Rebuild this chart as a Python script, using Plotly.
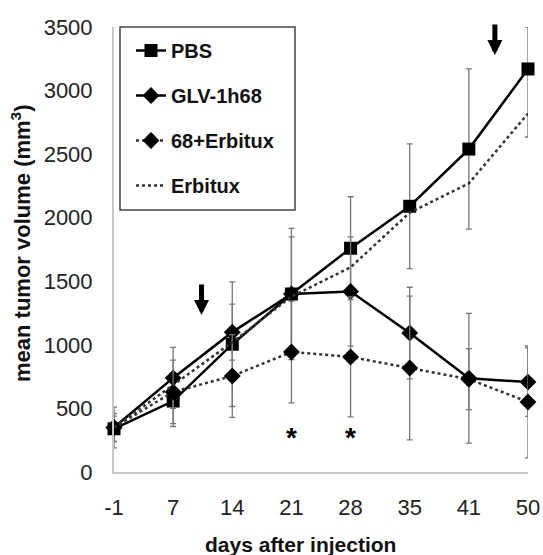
import plotly.graph_objects as go

days = ["-1", "7", "14", "21", "28", "35", "41", "50"]

pbs = [340, 558, 1005, 1400, 1760, 2090, 2540, 3170]
pbs_err_plus = [100, 200, 490, 516, 405, 490, 630, 330]
pbs_err_minus = [100, 200, 490, 516, 405, 490, 630, 535]

glv = [350, 740, 1100, 1400, 1420, 1093, 737, 707]
glv_err = [160, 240, 220, 450, 430, 360, 510, 270]

combo = [350, 630, 755, 944, 905, 818, 730, 551]
combo_err = [110, 250, 325, 400, 472, 566, 240, 440]

erbitux = [350, 684, 1020, 1380, 1610, 2040, 2270, 2820]

xi = list(range(len(days)))

fig = go.Figure()

fig.add_trace(go.Scatter(
    x=xi, y=pbs, name="PBS", mode="lines+markers",
    line=dict(color="black", width=2.5),
    marker=dict(symbol="square", size=13, color="black"),
    error_y=dict(type="data", symmetric=False, array=pbs_err_plus, arrayminus=pbs_err_minus,
                 color="#777", thickness=1.3, width=3),
    cliponaxis=False, legendgroup="a"))
fig.add_trace(go.Scatter(
    x=xi, y=glv, name="GLV-1h68", mode="lines+markers",
    line=dict(color="black", width=2.5),
    marker=dict(symbol="diamond", size=13, color="black"),
    error_y=dict(type="data", array=glv_err, color="#777", thickness=1.3, width=3),
    cliponaxis=False, legendgroup="b"))
fig.add_trace(go.Scatter(
    x=xi, y=combo, name="68+Erbitux", mode="lines+markers",
    line=dict(color="#333", width=2.5, dash="dot"),
    marker=dict(symbol="diamond", size=13, color="black"),
    error_y=dict(type="data", array=combo_err, color="#777", thickness=1.3, width=3),
    cliponaxis=False, legendgroup="c"))
fig.add_trace(go.Scatter(
    x=xi, y=erbitux, name="Erbitux", mode="lines",
    line=dict(color="#333", width=2.5, dash="dot"),
    cliponaxis=False, legendgroup="d"))

font_family = "Liberation Sans, Arial, sans-serif"

# plot area in page pixels: left 114, right 528, top 27, bottom 472
PW = 414.0
PH = 445.0
fig.update_layout(
    width=543, height=555,
    margin=dict(l=114, r=15, t=27, b=83, autoexpand=False),
    plot_bgcolor="white", paper_bgcolor="white",
    font=dict(family=font_family, color="#222"),
    showlegend=True,
    legend=dict(x=17 / PW, y=0.991, xanchor="left", yanchor="top",
                font=dict(size=20, color="#111", family=font_family, weight="bold"),
                bgcolor="rgba(0,0,0,0)", borderwidth=0,
                tracegroupgap=16, traceorder="grouped", itemwidth=30),
    xaxis=dict(range=[0, 7], tickmode="array", tickvals=xi, ticktext=days,
               automargin=False,
               showgrid=False, zeroline=False, showline=True, linecolor="#c8c8c8", linewidth=2,
               ticks="outside", ticklen=15, tickcolor="rgba(0,0,0,0)",
               ticklabeloverflow="allow",
               tickfont=dict(size=22, color="#222")),
    yaxis=dict(range=[0, 3500], tickvals=[0, 500, 1000, 1500, 2000, 2500, 3000, 3500],
               automargin=False,
               showgrid=False, zeroline=False, showline=True, linecolor="#c8c8c8", linewidth=2,
               ticks="outside", ticklen=15, tickcolor="rgba(0,0,0,0)",
               ticklabeloverflow="allow",
               tickfont=dict(size=22, color="#222")),
    shapes=[dict(type="rect", xref="paper", yref="paper",
                 x0=(120 - 114) / PW, x1=(295 - 114) / PW,
                 y0=(472 - 210) / PH, y1=(472 - 27) / PH,
                 line=dict(color="#444", width=1.5), fillcolor="rgba(0,0,0,0)")],
    annotations=[
        dict(x=1.48, y=1235, ax=1.48, ay=1487, axref="x", ayref="y", xref="x", yref="y",
             text="", showarrow=True, arrowhead=2, arrowwidth=5, arrowsize=0.6, arrowcolor="black"),
        dict(x=6.44, y=3280, ax=6.44, ay=3531, axref="x", ayref="y", xref="x", yref="y",
             text="", showarrow=True, arrowhead=2, arrowwidth=5, arrowsize=0.6, arrowcolor="black"),
        dict(x=3, y=270, xref="x", yref="y", text="*", showarrow=False,
             font=dict(size=28, color="black", weight="bold")),
        dict(x=4, y=270, xref="x", yref="y", text="*", showarrow=False,
             font=dict(size=28, color="black", weight="bold")),
        dict(x=(300 - 114) / PW, y=-(544 - 472) / PH, xref="paper", yref="paper",
             text="days after injection", showarrow=False, xanchor="center", yanchor="middle",
             font=dict(size=21, color="#111", weight="bold")),
        dict(x=-(114 - 21) / PW, y=(472 - 243) / PH, xref="paper", yref="paper",
             text="mean tumor volume (mm<sup>3</sup>)", showarrow=False, textangle=-90,
             xanchor="center", yanchor="middle",
             font=dict(size=22, color="#111", weight="bold")),
    ],
)

fig.write_html(
    "out.html",
    config={"displayModeBar": False},
    post_script="document.body.style.margin='0';document.body.style.overflow='hidden';",
)
